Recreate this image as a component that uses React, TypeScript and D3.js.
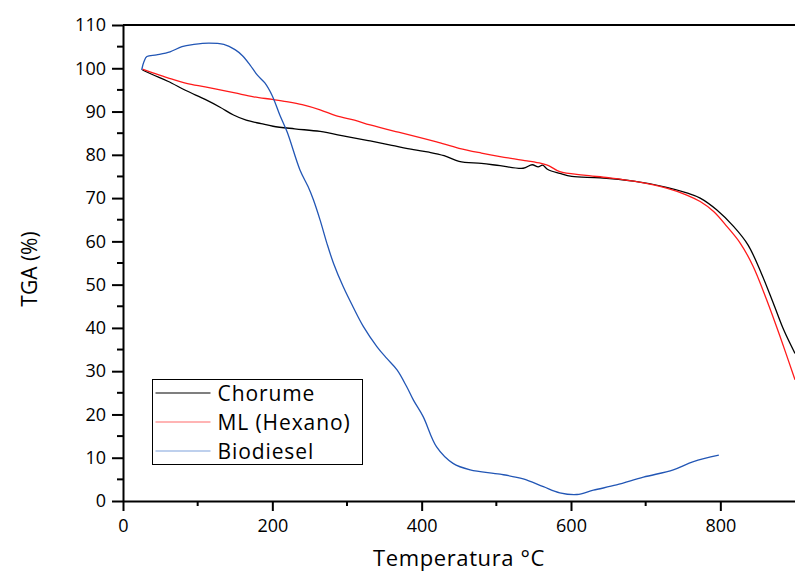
import React, { useRef, useEffect } from 'react';
import * as d3 from 'd3';

// temperatures (°C) and mass (%)
const chorumeTemp = [26, 40, 60, 85, 110, 130, 148, 165, 185, 201, 230, 264, 300, 331, 360, 389, 410, 430, 450, 480, 505, 536, 548, 556, 562, 569, 585, 601, 639, 684, 728, 755, 773, 795, 818, 837, 855, 871, 885, 900];
const chorumeMass = [99.6, 98.5, 97.0, 94.8, 92.8, 91.0, 89.2, 88.0, 87.2, 86.6, 86.0, 85.4, 84.2, 83.2, 82.2, 81.2, 80.6, 79.8, 78.5, 78.0, 77.5, 76.9, 77.7, 77.2, 77.6, 76.6, 75.7, 75.0, 74.7, 73.9, 72.5, 71.2, 70.0, 67.3, 63.4, 59.2, 52.6, 45.7, 39.5, 34.1];

const hexanoTemp = [26, 41, 60, 85, 110, 130, 150, 175, 200, 219, 240, 264, 286, 310, 331, 367, 398, 420, 450, 480, 505, 541, 560, 570, 585, 617, 650, 684, 728, 755, 773, 791, 809, 827, 844, 862, 880, 900];
const hexanoMass = [99.8, 98.9, 97.8, 96.5, 95.7, 95.0, 94.3, 93.4, 92.8, 92.3, 91.6, 90.4, 89.0, 88.0, 86.9, 85.3, 84.0, 83.0, 81.5, 80.4, 79.6, 78.6, 78.0, 77.5, 76.1, 75.3, 74.7, 73.9, 72.3, 70.7, 69.2, 66.9, 63.4, 59.5, 54.2, 46.5, 38.0, 28.0];

const biodieselTemp = [25, 28, 32, 45, 63, 79, 95, 115, 135, 150, 160, 170, 180, 190, 200, 210, 220, 237, 248, 255, 264, 273, 282, 295, 308, 322, 340, 353, 367, 380, 389, 402, 420, 442, 465, 505, 536, 563, 585, 608, 630, 661, 697, 737, 764, 798];
const biodieselMass = [99.6, 101.5, 102.7, 103.1, 103.8, 105.0, 105.5, 105.8, 105.5, 104.3, 102.9, 100.8, 98.4, 96.6, 93.6, 89.2, 85.2, 76.5, 72.6, 69.6, 64.9, 59.6, 54.9, 49.5, 44.9, 40.3, 35.7, 33.0, 30.3, 26.4, 23.3, 19.5, 12.5, 8.7, 7.2, 6.2, 5.1, 3.3, 1.9, 1.5, 2.5, 3.7, 5.5, 7.2, 9.1, 10.6];

const seriesNames = ['Chorume', 'ML (Hexano)', 'Biodiesel'];
const xTicks = [0, 200, 400, 600, 800];
const xMinor = [100, 300, 500, 700];
const yTicks = [0, 10, 20, 30, 40, 50, 60, 70, 80, 90, 100, 110];
const yMinor = [5, 15, 25, 35, 45, 55, 65, 75, 85, 95, 105];

const App = () => {
  const ref = useRef(null);

  useEffect(() => {
    const width = 795;
    const height = 571;
    const margin = { top: 25, right: 0, bottom: 70, left: 123 };
    const font = '"Open Sans", "Noto Sans", sans-serif';

    d3.select(ref.current).selectAll('*').remove();

    const svg = d3.select(ref.current)
      .append('svg')
      .attr('width', width)
      .attr('height', height)
      .style('position', 'absolute')
      .style('left', 0)
      .style('top', 0)
      .style('background', '#fff')
      .style('font-family', font);

    const x = d3.scaleLinear().domain([0, 900]).range([margin.left, width - margin.right]);
    const y = d3.scaleLinear().domain([0, 110]).range([height - margin.bottom, margin.top]);

    const series = [
      { name: seriesNames[0], temp: chorumeTemp, mass: chorumeMass, color: '#000000', legend: '#000000' },
      { name: seriesNames[1], temp: hexanoTemp, mass: hexanoMass, color: '#ff1a1a', legend: '#ff6b6b' },
      { name: seriesNames[2], temp: biodieselTemp, mass: biodieselMass, color: '#2256b5', legend: '#7ea1db' },
    ];

    const line = d3.line()
      .x(d => x(d[0]))
      .y(d => y(d[1]))
      .curve(d3.curveCatmullRom.alpha(0.5));

    // curves
    series.forEach(s => {
      const pts = s.temp.map((t, i) => [t, s.mass[i]]);
      svg.append('path')
        .datum(pts)
        .attr('fill', 'none')
        .attr('stroke', s.color)
        .attr('stroke-width', 1.3)
        .attr('d', line);
    });

    // x axis
    const xAxis = svg.append('g')
      .attr('transform', `translate(0,${y(0)})`)
      .call(d3.axisBottom(x).tickValues(xTicks).tickSize(10).tickSizeOuter(0).tickPadding(8));
    xAxis.selectAll('text').attr('font-size', 18).attr('font-family', font).attr('fill', '#000');
    xAxis.select('.domain').attr('stroke-width', 2);
    xAxis.selectAll('.tick line').attr('stroke-width', 2);
    xAxis.selectAll('.minor')
      .data(xMinor)
      .enter()
      .append('line')
      .attr('x1', d => x(d)).attr('x2', d => x(d))
      .attr('y1', 0).attr('y2', 5)
      .attr('stroke', '#000').attr('stroke-width', 2);

    // y axis
    const yAxis = svg.append('g')
      .attr('transform', `translate(${x(0)},0)`)
      .call(d3.axisLeft(y).tickValues(yTicks).tickSize(11).tickSizeOuter(0).tickPadding(6));
    yAxis.selectAll('text').attr('font-size', 18).attr('font-family', font).attr('fill', '#000');
    yAxis.select('.domain').attr('stroke-width', 2);
    yAxis.selectAll('.tick line').attr('stroke-width', 2);
    yAxis.selectAll('.minor')
      .data(yMinor)
      .enter()
      .append('line')
      .attr('x1', -6).attr('x2', 0)
      .attr('y1', d => y(d)).attr('y2', d => y(d))
      .attr('stroke', '#000').attr('stroke-width', 2);

    // top frame line
    svg.append('line')
      .attr('x1', x(0)).attr('x2', width)
      .attr('y1', y(110)).attr('y2', y(110))
      .attr('stroke', '#000').attr('stroke-width', 2);

    // axis titles
    svg.append('text')
      .attr('x', (x(0) + width) / 2)
      .attr('y', 566)
      .attr('text-anchor', 'middle')
      .attr('font-size', 22)
      .attr('letter-spacing', 0.6)
      .text('Temperatura °C');

    svg.append('text')
      .attr('transform', `translate(37,${(y(0) + y(110)) / 2 + 6}) rotate(-90)`)
      .attr('text-anchor', 'middle')
      .attr('font-size', 21)
      .text('TGA (%)');

    // legend
    const legend = svg.append('g').attr('transform', 'translate(152.5,379.5)');
    legend.append('rect')
      .attr('width', 210).attr('height', 85)
      .attr('fill', '#fff').attr('stroke', '#000').attr('stroke-width', 1);
    series.forEach((s, i) => {
      const ly = 13.5 + i * 29;
      legend.append('line')
        .attr('x1', 3).attr('x2', 58)
        .attr('y1', ly).attr('y2', ly)
        .attr('stroke', s.legend).attr('stroke-width', 1.2);
      legend.append('text')
        .attr('x', 65).attr('y', ly + 7.5)
        .attr('font-size', 21)
        .attr('letter-spacing', 0.9)
        .text(s.name);
    });
  }, []);

  return <div ref={ref}></div>;
};

export default App;
